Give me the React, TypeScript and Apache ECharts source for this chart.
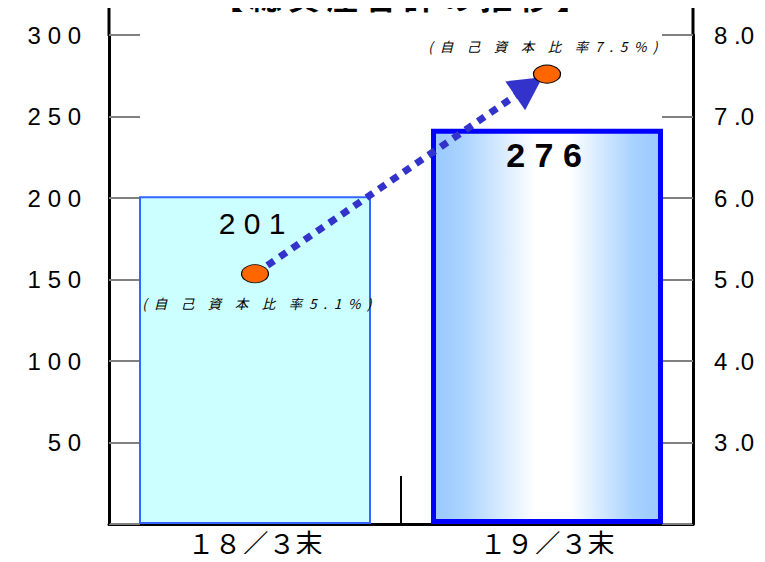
import React, { useEffect, useRef } from 'react';
import * as echarts from 'echarts';

const categories = ['１８／３末', '１９／３末'];
const barHeights = [201, 242.5];
const totalAssetsLabels = ['201', '276'];
const ratioValues = [5.07, 7.52];
const ratioLabels = ['(自己資本比率5.1%)', '(自己資本比率7.5%)'];
const titleText = '【総資産合計の推移】';

const isCJK = (c: string) => /[\u3000-\u9fff\uff00-\uffef]/.test(c);
const spaceOut = (s: string) => {
  const chars = Array.from(s);
  let out = '';
  chars.forEach((c, i) => {
    out += c;
    if (i < chars.length - 1) {
      const n = chars[i + 1];
      out += isCJK(c) && isCJK(n) ? '\u3000' : '\u2002';
    }
  });
  return out;
};
const spaceDigits = (s: string) => s.split('').join(' ');

export default function App() {
  const ref = useRef<HTMLDivElement>(null);
  useEffect(() => {
    if (!ref.current) return;
    const chart = echarts.init(ref.current, undefined, { renderer: 'svg' });
    const numFont = '"Liberation Sans", Arial, sans-serif';
    const cjkFont = '"Noto Sans CJK JP", sans-serif';
    chart.setOption({
      animation: false,
      backgroundColor: '#ffffff',
      grid: { left: 109, right: 72, top: 35, bottom: 38, containLabel: false },
      xAxis: {
        type: 'category',
        data: categories,
        boundaryGap: true,
        axisLine: { lineStyle: { color: '#000', width: 3 } },
        axisTick: { show: true, inside: true, length: 48, lineStyle: { color: '#000', width: 2 } },
        axisLabel: { fontFamily: cjkFont, fontSize: 27, color: '#000', margin: 5 },
      },
      yAxis: [
        {
          type: 'value',
          min: 0,
          max: 300,
          interval: 50,
          position: 'left',
          axisLine: { show: true, lineStyle: { color: '#000', width: 3 } },
          axisTick: { show: true, inside: true, length: 31, lineStyle: { color: '#808080', width: 2 } },
          splitLine: { show: false },
          axisLabel: {
            fontFamily: numFont,
            fontSize: 24,
            color: '#000',
            margin: 28,
            formatter: (v: number) => (v === 0 ? '' : spaceDigits(String(v))),
          },
        },
        {
          type: 'value',
          min: 2,
          max: 8,
          interval: 1,
          position: 'right',
          axisLine: { show: true, lineStyle: { color: '#000', width: 3 } },
          axisTick: { show: true, inside: true, length: 31, lineStyle: { color: '#808080', width: 2 } },
          splitLine: { show: false },
          axisLabel: {
            fontFamily: numFont,
            fontSize: 24,
            color: '#000',
            margin: 21,
            formatter: (v: number) => (v === 2 ? '' : v.toFixed(1).replace('.', ' .')),
          },
        },
      ],
      graphic: [
        { type: 'line', shape: { x1: 109, y1: 0, x2: 109, y2: 36 }, style: { stroke: '#000', lineWidth: 3 } },
        { type: 'line', shape: { x1: 693, y1: 0, x2: 693, y2: 36 }, style: { stroke: '#000', lineWidth: 3 } },
        {
          type: 'text',
          x: 400,
          y: 11,
          style: {
            text: spaceOut(titleText).replace(/\u3000|\u2002/g, '\u2009'),
            fontFamily: cjkFont,
            fontSize: 32,
            fontWeight: 'bold',
            fill: '#000',
            textAlign: 'center',
            textVerticalAlign: 'bottom',
          },
        },
      ],
      series: [
        {
          type: 'bar',
          barWidth: 232,
          yAxisIndex: 0,
          z: 2,
          data: barHeights.map((v, i) => ({
            value: v,
            itemStyle:
              i === 0
                ? { color: '#ccffff', borderColor: '#3366ff', borderWidth: 2 }
                : {
                    color: {
                      type: 'linear', x: 0, y: 0, x2: 1, y2: 0,
                      colorStops: [
                        { offset: 0, color: '#99c9ff' },
                        { offset: 0.12, color: '#a8d2ff' },
                        { offset: 0.45, color: '#ffffff' },
                        { offset: 0.6, color: '#ffffff' },
                        { offset: 0.88, color: '#a8d2ff' },
                        { offset: 1, color: '#99c9ff' },
                      ],
                    },
                    borderColor: '#0000ff',
                    borderWidth: 5,
                  },
            label: {
              show: true,
              position: ['50%', i === 0 ? 27 : 26],
              align: 'center',
              verticalAlign: 'middle',
              offset: [-3, 0],
              formatter: () => spaceDigits(totalAssetsLabels[i]),
              fontFamily: numFont,
              fontSize: i === 0 ? 30 : 34,
              fontWeight: i === 0 ? 'normal' : 'bold',
              color: '#000',
            },
          })),
        },
        {
          type: 'line',
          yAxisIndex: 1,
          data: ratioValues,
          symbol: 'none',
          lineStyle: { opacity: 0, width: 0 },
          z: 3,
          markLine: {
            silent: true,
            z: 4,
            symbol: ['none', 'triangle'],
            symbolSize: [35, 33],
            symbolOffset: [0, [0, 22]],
            lineStyle: { color: '#3333cc', width: 7, type: [8, 7], cap: 'butt', opacity: 1 },
            label: { show: false },
            data: [[{ coord: [categories[0], ratioValues[0]] }, { coord: [categories[1], ratioValues[1]] }]],
          },
        },
        {
          type: 'scatter',
          yAxisIndex: 1,
          z: 10,
          symbol: 'circle',
          symbolSize: [27, 18],
          itemStyle: { color: '#ff6600', borderColor: '#000', borderWidth: 1, opacity: 1 },
          data: ratioValues.map((v, i) => ({
            value: [categories[i], v],
            label: {
              show: true,
              position: 'inside',
              offset: i === 0 ? [2, 29] : [-4, -28],
              formatter: () => spaceOut(ratioLabels[i]),
              fontFamily: cjkFont,
              fontSize: 13.5,
              fontStyle: 'italic',
              color: '#000',
            },
          })),
        },
      ],
    });
    return () => chart.dispose();
  }, []);
  return <div ref={ref} style={{ width: 765, height: 562, margin: -8 }} />;
}
